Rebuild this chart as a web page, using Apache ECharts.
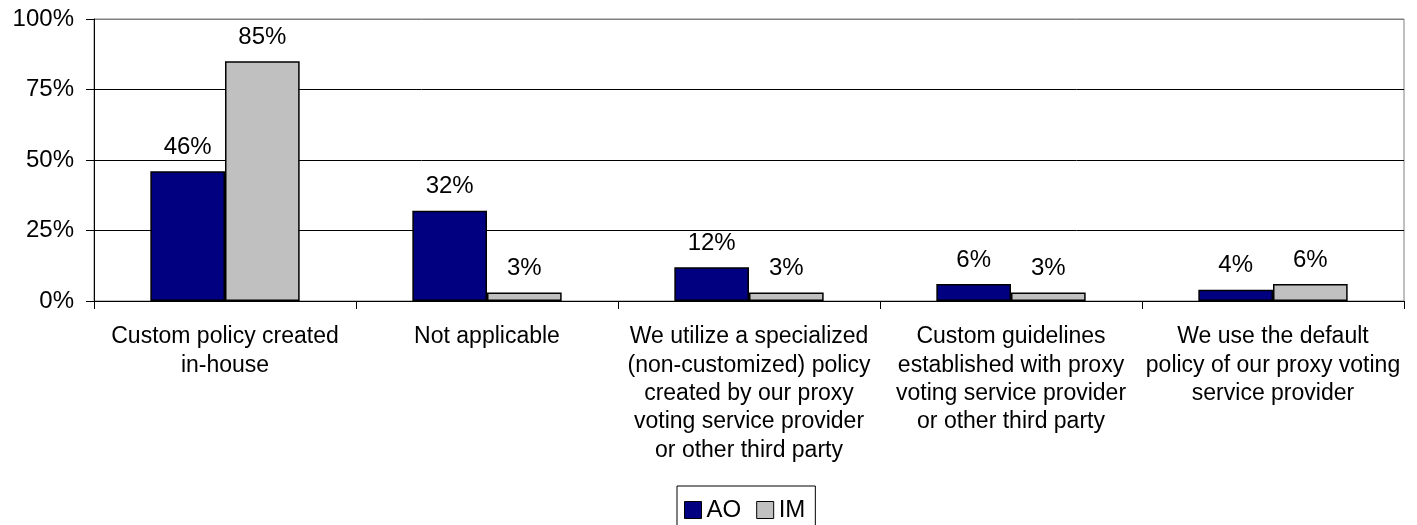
<!DOCTYPE html>
<html>
<head>
<meta charset="utf-8">
<script src="https://cdn.jsdelivr.net/npm/echarts@6/dist/echarts.min.js"></script>
<style>
  html, body { margin: 0; padding: 0; background: #fff; }
  #chart { width: 1417px; height: 525px; }
</style>
</head>
<body>
<div id="chart"></div>
<script>
const categories = [
  'Custom policy created\nin-house',
  'Not applicable',
  'We utilize a specialized\n(non-customized) policy\ncreated by our proxy\nvoting service provider\nor other third party',
  'Custom guidelines\nestablished with proxy\nvoting service provider\nor other third party',
  'We use the default\npolicy of our proxy voting\nservice provider'
];
const aoValues = [46, 32, 12, 6, 4];
const imValues = [85, 3, 3, 3, 6];

const font = 'Liberation Sans, Arial, sans-serif';

let myChart = echarts.init(document.getElementById('chart'));

let valueLabel = {
  show: true,
  position: 'top',
  distance: 12,
  formatter: '{c}%',
  color: '#000',
  fontFamily: font,
  fontSize: 24
};

let option = {
  animation: false,
  backgroundColor: '#fff',
  grid: {
    left: 94,
    right: 13,
    top: 19,
    bottom: 224,
    show: true,
    borderColor: '#808080',
    borderWidth: 1
  },
  legend: {
    left: 677,
    top: 486,
    padding: [12, 10, 30, 7],
    borderColor: '#000',
    borderWidth: 1,
    itemWidth: 17,
    itemHeight: 17,
    itemGap: 15,
    icon: 'rect',
    itemStyle: { borderColor: '#000', borderWidth: 1 },
    textStyle: { fontFamily: font, fontSize: 24, color: '#000' },
    data: ['AO', 'IM']
  },
  xAxis: {
    type: 'category',
    data: categories,
    axisLine: { lineStyle: { color: '#000', width: 1 } },
    axisTick: { show: true, length: 8, alignWithLabel: false, lineStyle: { color: '#000' } },
    axisLabel: {
      interval: 0,
      margin: 22,
      color: '#000',
      fontFamily: font,
      fontSize: 23,
      lineHeight: 28.3
    }
  },
  yAxis: {
    type: 'value',
    min: 0,
    max: 100,
    interval: 25,
    axisLine: { show: true, lineStyle: { color: '#000', width: 1 } },
    axisTick: { show: true, length: 8, lineStyle: { color: '#000' } },
    axisLabel: {
      formatter: '{value}%',
      margin: 20,
      color: '#000',
      fontFamily: font,
      fontSize: 24
    },
    splitLine: {
      show: true,
      lineStyle: { color: ['#000', '#000', '#000', '#000', '#808080'], width: 1 }
    }
  },
  series: [
    {
      name: 'AO',
      type: 'bar',
      data: aoValues,
      barGap: '0%',
      barCategoryGap: '43%',
      itemStyle: { color: '#000080', borderColor: '#000', borderWidth: 1.5 },
      label: valueLabel
    },
    {
      name: 'IM',
      type: 'bar',
      data: imValues,
      barGap: '0%',
      barCategoryGap: '43%',
      itemStyle: { color: '#C0C0C0', borderColor: '#000', borderWidth: 1.5 },
      label: valueLabel
    }
  ]
};

myChart.setOption(option);
</script>
</body>
</html>
